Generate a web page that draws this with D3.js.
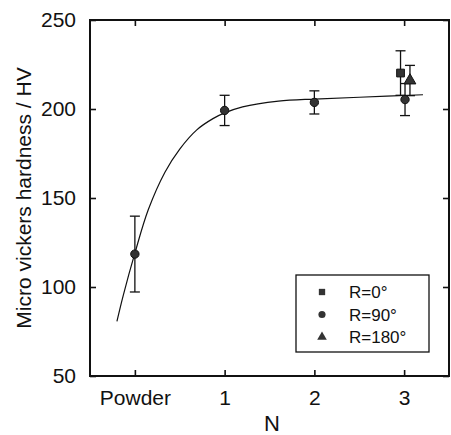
<!DOCTYPE html>
<html>
<head>
<meta charset="utf-8">
<script src="https://cdn.jsdelivr.net/npm/d3@7"></script>
<style>
  body { margin: 0; background: #fff; }
  text { font-family: "Liberation Sans", Arial, sans-serif; fill: #111; }
</style>
</head>
<body>
<div id="chart"></div>
<script>
// data
var xTicks = [0, 1, 2, 3];
var xTickLabels = ["Powder", "1", "2", "3"];
var yTicks = [50, 100, 150, 200, 250];

var r90N = [0, 1, 2, 3.01];
var r90HV = [118.5, 199.2, 203.7, 205.3];
var r90Err = [21.3, 8.5, 6.5, 9];

var r0N = [2.96];
var r0HV = [220.2];
var r0Err = [12.5];

var r180N = [3.065];
var r180HV = [216];
var r180Err = [8.5];

// fitted curve, traced
var fitN = [-0.2, -0.13, 0, 0.15, 0.335, 0.5, 0.69, 0.87, 1.0, 1.2, 1.6, 2.0, 2.5, 3.21];
var fitHV = [80.7, 95.2, 119, 143.5, 164.5, 177.5, 188.3, 194.6, 197.8, 201.2, 204.4, 205.6, 206.6, 208];

var svgWidth = 451;
var svgHeight = 435;
var margin = { top: 20, right: 2, bottom: 59, left: 90 };
var width = svgWidth - margin.left - margin.right;
var height = svgHeight - margin.top - margin.bottom;

var svg = d3.select("#chart")
  .append("svg")
  .attr("width", svgWidth)
  .attr("height", svgHeight);

var chartGroup = svg.append("g")
  .attr("transform", `translate(${margin.left}, ${margin.top})`);

var x = d3.scaleLinear().domain([-0.5, 3.5]).range([0, width]);
var y = d3.scaleLinear().domain([50, 250]).range([height, 0]);

// axes, ticks pointing in
var bottomAxis = d3.axisBottom(x).tickValues(xTicks)
  .tickFormat((d, i) => xTickLabels[i]).tickSizeInner(-6).tickSizeOuter(0).tickPadding(14);
var leftAxis = d3.axisLeft(y).tickValues(yTicks).tickSizeInner(-6).tickSizeOuter(0).tickPadding(14);
var topAxis = d3.axisTop(x).tickValues(xTicks).tickFormat("").tickSizeInner(-6).tickSizeOuter(0);
var rightAxis = d3.axisRight(y).tickValues(yTicks).tickFormat("").tickSizeInner(-6).tickSizeOuter(0);

function styleAxis(g) {
  g.select(".domain").remove();
  g.selectAll(".tick line").attr("stroke", "#111").attr("stroke-width", 1.6);
  g.selectAll(".tick text").attr("font-size", "21px").attr("fill", "#111");
}

chartGroup.append("g").attr("transform", `translate(0, ${height})`).call(bottomAxis).call(styleAxis);
chartGroup.append("g").call(leftAxis).call(styleAxis);
chartGroup.append("g").call(topAxis).call(styleAxis);
chartGroup.append("g").attr("transform", `translate(${width}, 0)`).call(rightAxis).call(styleAxis);

chartGroup.append("rect")
  .attr("width", width).attr("height", height)
  .attr("fill", "none").attr("stroke", "#111").attr("stroke-width", 2);

// fit line
var line = d3.line()
  .x((d, i) => x(fitN[i]))
  .y((d, i) => y(fitHV[i]))
  .curve(d3.curveCatmullRom.alpha(0.5));

chartGroup.append("path")
  .datum(fitHV)
  .attr("d", line)
  .attr("fill", "none")
  .attr("stroke", "#111")
  .attr("stroke-width", 1.2);

// error bars
function errorBars(ns, vals, errs) {
  var g = chartGroup.append("g").attr("stroke", "#111").attr("stroke-width", 1.3);
  ns.forEach(function(n, i) {
    var cx = x(n);
    g.append("line").attr("x1", cx).attr("x2", cx).attr("y1", y(vals[i] - errs[i])).attr("y2", y(vals[i] + errs[i]));
    g.append("line").attr("x1", cx - 5).attr("x2", cx + 5).attr("y1", y(vals[i] - errs[i])).attr("y2", y(vals[i] - errs[i]));
    g.append("line").attr("x1", cx - 5).attr("x2", cx + 5).attr("y1", y(vals[i] + errs[i])).attr("y2", y(vals[i] + errs[i]));
  });
}
errorBars(r90N, r90HV, r90Err);
errorBars(r0N, r0HV, r0Err);
errorBars(r180N, r180HV, r180Err);

var sym = {
  square: d3.symbol().type(d3.symbolSquare).size(60),
  circle: d3.symbol().type(d3.symbolCircle).size(55),
  triangle: d3.symbol().type(d3.symbolTriangle).size(60)
};

function points(ns, vals, shape) {
  chartGroup.append("g").selectAll("path")
    .data(vals)
    .enter()
    .append("path")
    .attr("d", sym[shape])
    .attr("transform", (d, i) => `translate(${x(ns[i])}, ${y(d)})`)
    .attr("fill", "#333")
    .attr("stroke", "#111")
    .attr("stroke-width", 1);
}
points(r90N, r90HV, "circle");
points(r0N, r0HV, "square");
points(r180N, r180HV, "triangle");

// legend
var legendItems = [
  { shape: "square", label: "R=0°" },
  { shape: "circle", label: "R=90°" },
  { shape: "triangle", label: "R=180°" }
];
var legend = svg.append("g").attr("transform", "translate(296, 275)");
legend.append("rect")
  .attr("width", 133).attr("height", 77)
  .attr("fill", "#fff").attr("stroke", "#111").attr("stroke-width", 1.3);
var rows = legend.selectAll(".row")
  .data(legendItems)
  .enter()
  .append("g")
  .attr("class", "row")
  .attr("transform", (d, i) => `translate(0, ${17 + i * 22.5})`);
rows.append("path")
  .attr("d", d => d3.symbol().type(d.shape === "square" ? d3.symbolSquare : d.shape === "circle" ? d3.symbolCircle : d3.symbolTriangle).size(40)())
  .attr("transform", "translate(26, 0)")
  .attr("fill", "#333");
rows.append("text")
  .attr("x", 53)
  .attr("dy", "0.36em")
  .attr("font-size", "17px")
  .text(d => d.label);

// axis labels
svg.append("text")
  .attr("transform", `translate(31, ${margin.top + height / 2}) rotate(-90)`)
  .attr("text-anchor", "middle")
  .attr("font-size", "21px")
  .text("Micro vickers hardness / HV");

svg.append("text")
  .attr("x", 272)
  .attr("y", 431)
  .attr("text-anchor", "middle")
  .attr("font-size", "22px")
  .text("N");
</script>
</body>
</html>
